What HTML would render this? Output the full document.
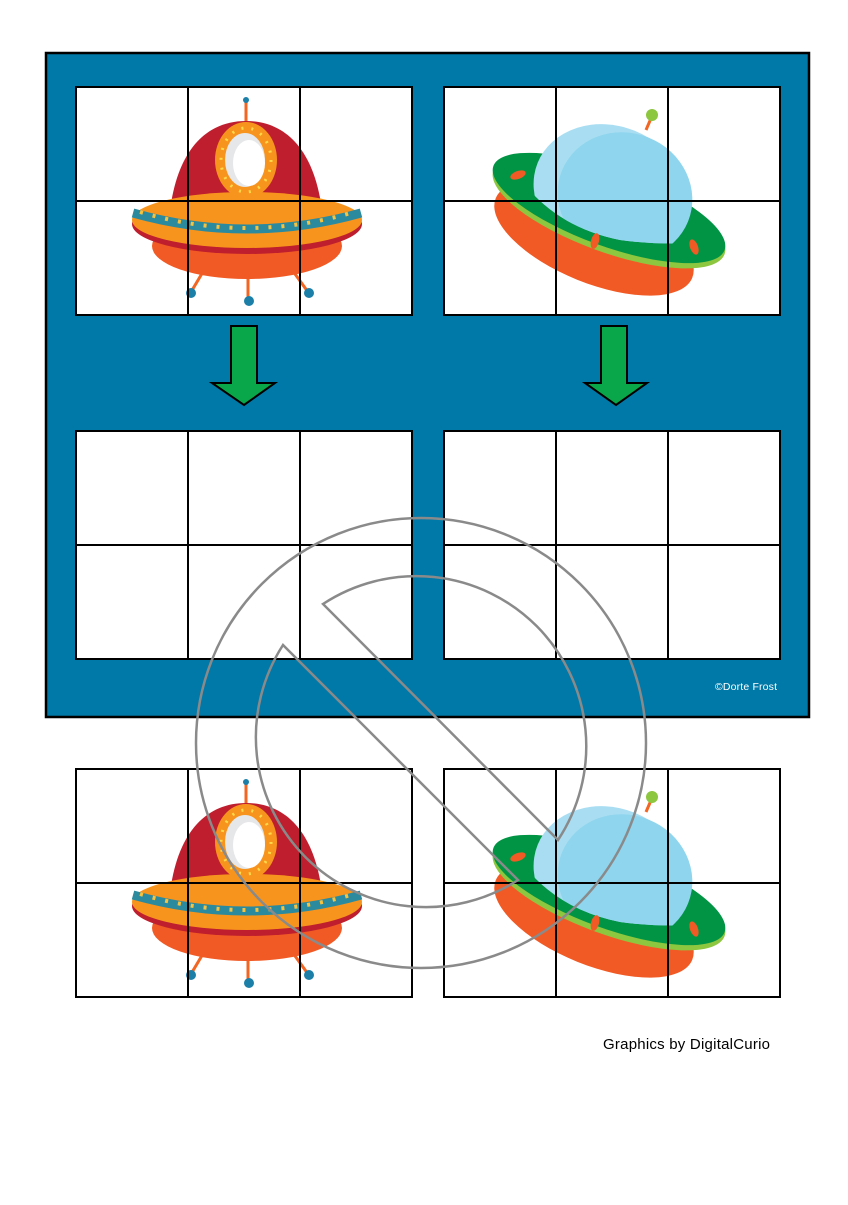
<!DOCTYPE html>
<html><head><style>html,body{margin:0;padding:0;background:#fff}</style></head>
<body>
<svg width="848" height="1200" viewBox="0 0 848 1200" xmlns="http://www.w3.org/2000/svg">
<defs>
<clipPath id="dc"><path d="M440,80 H790 V232 Q690,250 620,240 Q560,228 525,185 L440,170 Z"/></clipPath>
<g id="red">
 <line x1="246" y1="102" x2="246" y2="124" stroke="#f26522" stroke-width="3"/>
 <circle cx="246" cy="100" r="3" fill="#1b7fa8"/>
 <line x1="210" y1="260" x2="191" y2="292" stroke="#f26522" stroke-width="3"/>
 <line x1="248" y1="265" x2="248" y2="300" stroke="#f26522" stroke-width="3"/>
 <line x1="285" y1="260" x2="308" y2="292" stroke="#f26522" stroke-width="3"/>
 <circle cx="191" cy="293" r="5" fill="#1b7fa8"/>
 <circle cx="249" cy="301" r="5" fill="#1b7fa8"/>
 <circle cx="309" cy="293" r="5" fill="#1b7fa8"/>
 <path d="M168,245 C168,160 200,121 246,121 C292,121 324,160 324,245 Z" fill="#be1e2d"/>
 <ellipse cx="247" cy="246" rx="95" ry="33" fill="#f15a24"/>
 <ellipse cx="247" cy="224" rx="115" ry="30" fill="#be1e2d"/>
 <ellipse cx="247" cy="220" rx="115" ry="28" fill="#f7941d"/>
 <path d="M133,213 Q247,245 361,213" fill="none" stroke="#2b8a9e" stroke-width="9"/>
 <path d="M140,212 Q247,244 354,212" fill="none" stroke="#f7c23d" stroke-width="4" stroke-dasharray="3,10"/>
 <ellipse cx="246" cy="160" rx="31" ry="38" fill="#f7941d"/>
 <ellipse cx="246" cy="160" rx="25" ry="32" fill="none" stroke="#ffd94a" stroke-width="3" stroke-dasharray="2,8"/>
 <ellipse cx="245" cy="160" rx="20" ry="27" fill="#e6e7e8"/>
 <ellipse cx="249" cy="163" rx="16" ry="23" fill="#fff"/>
</g>
<g id="green">
 <line x1="646" y1="130" x2="652" y2="116" stroke="#f26522" stroke-width="3"/>
 <circle cx="652" cy="115" r="6" fill="#8dc63f"/>
 <ellipse cx="594" cy="238" rx="106" ry="45" transform="rotate(22 594 238)" fill="#f15a24"/>
 <ellipse cx="609" cy="212" rx="123" ry="40" transform="rotate(20 609 212)" fill="#8dc63f"/>
 <ellipse cx="609" cy="208" rx="123" ry="38" transform="rotate(20 609 208)" fill="#009444"/>
 <g clip-path="url(#dc)">
  <ellipse cx="610" cy="192" rx="78" ry="66" transform="rotate(22 610 192)" fill="#a9def2"/>
  <ellipse cx="625" cy="196" rx="68" ry="63" transform="rotate(22 625 196)" fill="#8fd5ee"/>
 </g>
 <ellipse cx="518" cy="175" rx="8" ry="4" transform="rotate(-20 518 175)" fill="#f15a24"/>
 <ellipse cx="595" cy="241" rx="4" ry="8" transform="rotate(15 595 241)" fill="#f15a24"/>
 <ellipse cx="694" cy="247" rx="4" ry="8" transform="rotate(-20 694 247)" fill="#f15a24"/>
</g>
<g id="grid" fill="none" stroke="#000" stroke-width="2">
 <rect x="76" y="0" width="336" height="228"/>
 <line x1="188" y1="0" x2="188" y2="228"/><line x1="300" y1="0" x2="300" y2="228"/>
 <line x1="76" y1="114" x2="412" y2="114"/>
 <rect x="444" y="0" width="336" height="228"/>
 <line x1="556" y1="0" x2="556" y2="228"/><line x1="668" y1="0" x2="668" y2="228"/>
 <line x1="444" y1="114" x2="780" y2="114"/>
</g>
</defs>
<rect x="46" y="53" width="763" height="664" fill="#0079a8" stroke="#000" stroke-width="2.5"/>
<rect x="76" y="87" width="336" height="228" fill="#fff"/><rect x="444" y="87" width="336" height="228" fill="#fff"/>
<rect x="76" y="431" width="336" height="228" fill="#fff"/><rect x="444" y="431" width="336" height="228" fill="#fff"/>
<use href="#red"/><use href="#green"/>
<use href="#grid" transform="translate(0,87)"/>
<use href="#grid" transform="translate(0,431)"/>
<g transform="translate(0,682)"><use href="#red"/><use href="#green"/></g>
<use href="#grid" transform="translate(0,769)"/>
<path d="M231,326 H257 V383 H275 L244,405 L212,383 H231 Z" fill="#0aa64a" stroke="#000" stroke-width="2"/>
<path d="M601,326 H627 V383 H647 L616,405 L585,383 H601 Z" fill="#0aa64a" stroke="#000" stroke-width="2"/>
<text x="715" y="690" font-family="Liberation Sans, sans-serif" font-size="10.5" fill="#fff" textLength="62">©Dorte Frost</text>
<text x="603" y="1049" font-family="Liberation Sans, sans-serif" font-size="15" fill="#000" textLength="167">Graphics by DigitalCurio</text>
<g fill="none" stroke="#8a8a8a" stroke-width="2.5">
 <circle cx="421" cy="743" r="225"/>
 <path d="M323,604 A170,170 0 0 1 558,840 Z"/>
 <path d="M518,880 A170,170 0 0 1 283,645 Z"/>
</g>
</svg>
</body></html>
